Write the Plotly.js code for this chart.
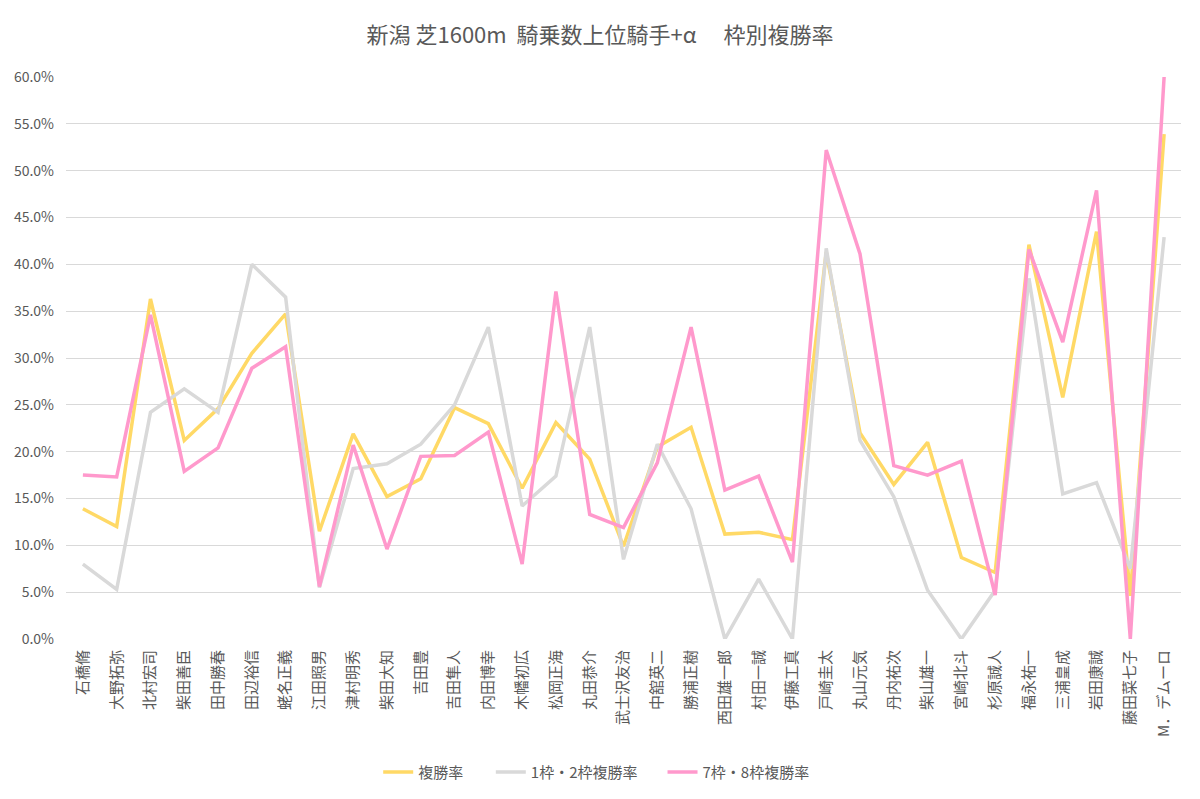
<!DOCTYPE html>
<html>
<head>
<meta charset="utf-8">
<script src="https://cdn.plot.ly/plotly-3.0.1.min.js"></script>
<style>html,body{margin:0;padding:0;background:#fff;}#chart{width:1200px;height:799px;}</style>
</head>
<body>
<div id="chart"></div>
<script>
const jockeys = ["石橋脩","大野拓弥","北村宏司","柴田善臣","田中勝春","田辺裕信","蛯名正義","江田照男","津村明秀","柴田大知","吉田豊","吉田隼人","内田博幸","木幡初広","松岡正海","丸田恭介","武士沢友治","中舘英二","勝浦正樹","西田雄一郎","村田一誠","伊藤工真","戸崎圭太","丸山元気","丹内祐次","柴山雄一","宮崎北斗","杉原誠人","福永祐一","三浦皇成","岩田康誠","藤田菜七子","M．デムーロ"];
const placeRate = [13.9,12.0,36.3,21.2,24.6,30.5,34.7,11.5,21.9,15.2,17.1,24.7,23.0,16.1,23.1,19.2,9.9,20.5,22.6,11.2,11.4,10.6,41.3,22.0,16.5,21.0,8.7,7.1,42.1,25.8,43.5,4.6,53.9];
const placeRateGate12 = [8.0,5.3,24.2,26.7,24.2,40.0,36.5,5.5,18.2,18.7,20.8,25.0,33.3,14.2,17.4,33.3,8.5,20.8,13.9,0.0,6.4,0.0,41.7,21.2,15.2,5.2,0.0,5.2,38.5,15.5,16.7,7.5,42.9];
const placeRateGate78 = [17.5,17.3,34.6,17.9,20.4,28.9,31.2,5.6,20.7,9.6,19.5,19.6,22.1,8.0,37.1,13.3,11.9,18.8,33.3,15.9,17.4,8.2,52.2,41.1,18.5,17.5,19.0,4.7,41.6,31.7,47.9,0.0,60.0];
const seriesNames = ["複勝率","1枠・2枠複勝率","7枠・8枠複勝率"];
const yTicks = [0,5,10,15,20,25,30,35,40,45,50,55,60];

const font = "'Noto Sans CJK JP', 'Noto Sans', sans-serif";
const mk = (y, name, color, lg) => ({
  type: 'scatter', mode: 'lines', x: jockeys, y: y, name: name, legend: lg,
  line: {color: color, width: 3.5}, hoverinfo: 'x+y'
});
const data = [
  mk(placeRate, seriesNames[0], '#FFD966', 'legend'),
  mk(placeRateGate12, seriesNames[1], '#D9D9D9', 'legend2'),
  mk(placeRateGate78, seriesNames[2], '#FF99CC', 'legend3')
];
const lgBase = (x) => ({orientation: 'h', x: x, xanchor: 'left', y: -0.235, yanchor: 'middle',
  font: {size: 15, color: '#595959'}, bgcolor: 'rgba(0,0,0,0)'});
const layout = {
  width: 1200, height: 799,
  paper_bgcolor: '#fff', plot_bgcolor: '#fff',
  margin: {l: 66, r: 19, t: 77, b: 159},
  font: {family: font, color: '#595959', size: 13},
  title: {text: '新潟 芝1600m  騎乗数上位騎手+α　 枠別複勝率', x: 0.5, xanchor: 'center', y: 0.956, yanchor: 'middle', font: {size: 22, color: '#595959', family: font}},
  xaxis: {
    type: 'category', tickangle: -90, showgrid: false, zeroline: false,
    showline: false, ticks: '', tickfont: {size: 15, color: '#595959'}, ticklabelstandoff: 7,
    range: [-0.5, jockeys.length - 0.5], automargin: false
  },
  yaxis: {
    range: [0, 60], tickvals: yTicks, ticktext: yTicks.map(v => v.toFixed(1) + '%'),
    showgrid: true, gridcolor: '#D9D9D9', gridwidth: 1, zeroline: false,
    showline: false, ticks: '', tickfont: {size: 14, color: '#595959'}, ticklabelstandoff: 11, automargin: false
  },
  showlegend: true,
  legend: lgBase(0.280),
  legend2: lgBase(0.381),
  legend3: lgBase(0.535)
};
Plotly.newPlot('chart', data, layout, {displayModeBar: false, staticPlot: true});
</script>
</body>
</html>
